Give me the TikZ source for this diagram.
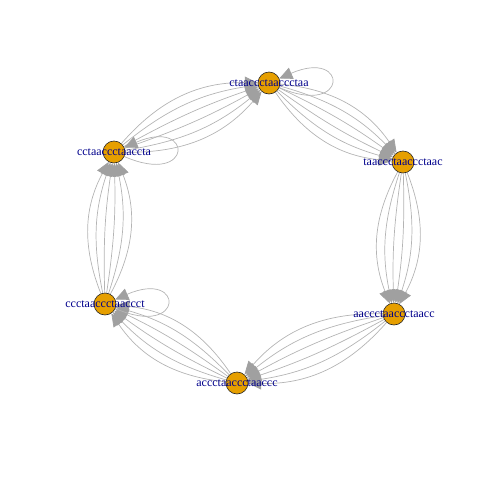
\documentclass[tikz,border=0pt]{standalone}
\usepackage{fontspec}
\setmainfont{Liberation Serif}
\usetikzlibrary{arrows.meta,backgrounds}
\definecolor{nodeorange}{HTML}{E69F00}
\definecolor{labelblue}{HTML}{00008B}
\definecolor{edgegray}{HTML}{B4B4B4}
\definecolor{tipgray}{HTML}{A0A0A0}
\begin{document}
\begin{tikzpicture}[x=1pt,y=-1pt,
  vertex/.style={circle,draw=black!85,fill=nodeorange,minimum size=22pt,inner sep=0pt,line width=0.6pt},
  vlabel/.style={font=\fontsize{12}{12}\selectfont,text=labelblue,inner sep=0pt},
  link/.style={draw=edgegray,line width=0.7pt,-{Triangle[length=13pt,width=12pt,color=tipgray,fill=tipgray]}},
]
\useasboundingbox (0,0) rectangle (480,480);
\node[vertex] (A) at (269,83) {};
\node[vlabel] (Al) at (A) {ctaaccctaaccctaa};
\node[vertex] (B) at (403,162) {};
\node[vlabel] (Bl) at (B) {taaccctaaccctaac};
\node[vertex] (C) at (394,314) {};
\node[vlabel] (Cl) at (C) {aaccctaaccctaacc};
\node[vertex] (D) at (237,383) {};
\node[vlabel] (Dl) at (D) {accctaaccctaaccc};
\node[vertex] (E) at (105,304) {};
\node[vlabel] (El) at (E) {ccctaaccctaaccct};
\node[vertex] (F) at (114,152) {};
\node[vlabel] (Fl) at (F) {cctaaccctaaccta};
\begin{scope}[on background layer]
  \foreach \s/\t in {F/A,A/B,B/C,C/D,D/E,E/F} {
    \foreach \b in {5,15,25} {
      \draw[link] (\s) to[bend left=\b] (\t);
      \draw[link] (\s) to[bend right=\b] (\t);
    }
  }
  \foreach \n in {A,E,F} {
    \draw[link] (\n) .. controls +(80,35) and +(80,-35) .. (\n);
  }
\end{scope}
\end{tikzpicture}
\end{document}
